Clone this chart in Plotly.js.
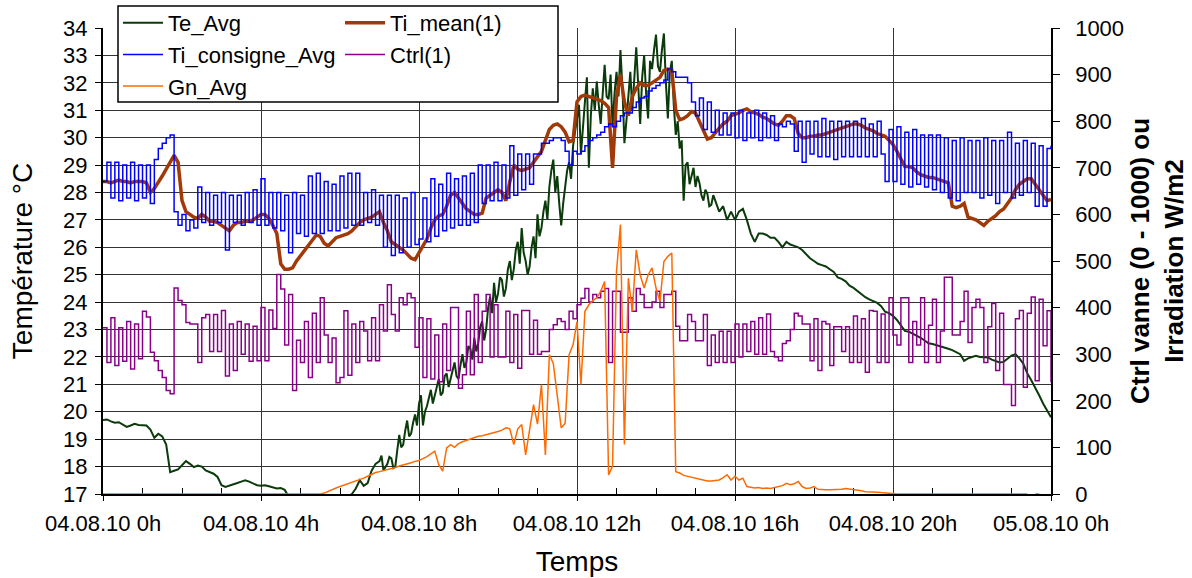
<!DOCTYPE html>
<html>
<head>
<meta charset="utf-8">
<script src="https://cdn.plot.ly/plotly-3.0.1.min.js"></script>
<style>
html,body{margin:0;padding:0;background:#fff;}
#chart{width:1192px;height:578px;}
</style>
</head>
<body>
<div id="chart"></div>
<script>
// Te_Avg: 6-minute samples 0h-7h, 3-minute samples 7h-15.5h (noisy part), 6-minute samples 15.5h-24h
const teAvg = [
  19.7, 19.72, 19.65, 19.6, 19.62, 19.55, 19.45, 19.5, 19.56, 19.52,
  19.5, 19.5, 19.35, 19.05, 19.2, 19.1, 18.8, 17.8, 17.85, 17.9,
  18.05, 18.2, 18.1, 17.98, 18.04, 18.0, 17.86, 17.8, 17.74, 17.62,
  17.32, 17.26, 17.3, 17.35, 17.4, 17.45, 17.5, 17.45, 17.38, 17.32,
  17.3, 17.32, 17.28, 17.25, 17.2, 17.22, 17.15, 16.9, 16.7, 16.6,
  16.6, 16.5, 16.5, 16.4, 16.4, 16.4, 16.5, 16.5, 16.6, 16.6,
  16.7, 16.8, 16.9, 17.0, 17.2, 17.5, 17.3, 17.4, 17.85, 18.1,
  // 7h - 15.45h (3 min)
  18.2, 18.4, 17.86, 18.0, 18.1, 18.35, 18.3, 17.95, 18.0, 18.6, 19.16, 18.7, 18.8, 19.3, 19.68, 19.1, 19.2, 19.6, 19.9, 19.5,
  20.3, 20.6, 19.5, 20.0, 20.2, 20.5, 20.8, 20.3, 20.6, 21.0, 21.2, 20.6, 20.7, 21.3, 21.4, 20.9, 21.2, 21.6, 21.8, 21.3,
  21.2, 21.7, 22.1, 21.6, 21.8, 22.4, 22.3, 21.9, 22.7, 22.2, 22.5, 23.1, 23.3, 22.6, 23.0, 23.8, 24.2, 23.6, 24.7, 24.0,
  24.3, 24.9, 24.8, 24.2, 24.5, 25.2, 25.5, 24.8, 25.2, 25.9, 26.2, 25.4, 26.7, 25.8, 25.5, 25.0, 25.3, 26.0, 26.4, 25.6,
  27.2, 26.4, 26.7, 27.3, 27.7, 27.0, 28.2, 28.8, 29.2, 28.0, 28.6, 27.6, 26.8, 27.6, 28.2, 28.8, 29.1, 28.5, 29.7, 30.2,
  30.6, 31.2, 29.4, 30.5, 31.3, 32.2, 28.9, 30.8, 31.8, 31.0, 32.05, 31.2, 30.5, 31.6, 32.66, 31.5, 31.4, 32.3, 30.4, 31.6,
  32.4, 31.5, 33.2, 31.8, 29.8, 30.6, 31.6, 32.4, 31.0, 32.0, 33.3, 31.9, 30.5, 32.2, 33.0, 31.6, 30.7, 32.8, 32.5, 33.2,
  33.76, 32.6, 32.4, 33.2, 33.8, 32.0, 30.7, 32.4, 32.8, 31.2, 30.1, 30.6, 29.6, 29.9, 27.7, 29.0, 29.1, 28.3, 28.65, 28.9,
  28.2, 28.6, 28.35, 27.9, 27.7, 28.1, 27.95, 27.5, 27.55, 27.9,
  // 15.5h - 24h (6 min)
  27.7, 27.3, 27.5, 27.0, 27.3,
  27.0, 27.3, 27.4, 27.0, 26.5, 26.2, 26.5, 26.5, 26.45, 26.35,
  26.35, 26.2, 26.0, 26.2, 26.1, 26.05, 26.0, 25.9, 25.75, 25.6,
  25.5, 25.4, 25.35, 25.3, 25.2, 25.1, 24.9, 24.85, 24.76, 24.6,
  24.52, 24.4, 24.3, 24.18, 24.1, 24.04, 23.97, 23.85, 23.65, 23.6,
  23.5, 23.35, 23.15, 22.95, 22.92, 22.85, 22.77, 22.7, 22.6, 22.5,
  22.47, 22.43, 22.4, 22.34, 22.3, 22.25, 22.18, 22.1, 21.86, 21.95,
  22.0, 22.04, 22.0, 21.98, 21.98, 21.9, 21.85, 21.8, 21.82, 21.95,
  22.05, 22.1, 21.95, 21.75, 21.4, 21.15, 20.9, 20.6, 20.3, 20.05,
  19.8
];
// Other series: 6-minute samples from 04.08.10 0h to 05.08.10 0h (one row per hour)
const tiMean = [
  28.4, 28.4, 28.35, 28.4, 28.45, 28.4, 28.4, 28.35, 28.4, 28.4,
  28.4, 28.35, 28.0, 28.15, 28.35, 28.6, 28.85, 29.1, 29.35, 29.1,
  27.7, 27.3, 27.2, 27.1, 27.05, 27.2, 27.1, 26.95, 26.95, 26.9,
  26.8, 26.7, 26.6, 26.8, 26.9, 26.9, 26.95, 26.95, 27.0, 27.1,
  27.2, 27.2, 27.05, 26.8, 26.5, 25.4, 25.2, 25.2, 25.25, 25.5,
  25.7, 25.9, 26.1, 26.3, 26.45, 26.4, 26.15, 26.05, 26.2, 26.35,
  26.4, 26.45, 26.5, 26.6, 26.75, 26.9, 27.0, 27.05, 27.1, 27.2,
  27.3, 26.9, 26.6, 26.2, 26.1, 26.0, 25.9, 25.75, 25.6, 25.55,
  25.8, 26.0, 26.3, 26.7, 27.0, 27.15, 27.2, 27.5, 27.9, 28.0,
  27.8, 27.6, 27.4, 27.3, 27.2, 27.2, 27.25, 27.8, 27.9, 28.0,
  28.1, 28.0, 27.7, 28.4, 29.0, 28.85, 28.8, 28.85, 28.9, 29.1,
  29.3, 29.5, 29.9, 30.3, 30.45, 30.5, 30.4, 30.2, 29.85, 29.9,
  31.3, 31.5, 31.55, 31.5, 31.45, 31.4, 31.35, 31.25, 31.1, 28.9,
  31.5, 32.3, 31.3, 30.8, 31.5, 31.8, 32.0, 31.9, 31.9, 32.0,
  32.1, 32.2, 32.45, 32.5, 32.45, 31.0, 30.65, 30.7, 30.8, 30.95,
  30.9, 30.6, 30.3, 29.95, 30.0, 30.2, 30.35, 30.5, 30.6, 30.8,
  30.85, 30.9, 31.0, 31.05, 30.95, 30.9, 30.85, 30.75, 30.7, 30.6,
  30.5, 30.45, 30.6, 30.8, 30.8, 30.7, 30.15, 30.0, 30.0, 30.05,
  30.05, 30.1, 30.1, 30.15, 30.2, 30.25, 30.3, 30.35, 30.4, 30.45,
  30.5, 30.5, 30.45, 30.35, 30.3, 30.25, 30.15, 30.1, 30.05, 29.9,
  29.75, 29.5, 29.2, 28.95, 28.95, 28.9, 28.75, 28.65, 28.6, 28.55,
  28.55, 28.5, 28.45, 28.4, 28.35, 27.5, 27.45, 27.5, 27.6, 27.1,
  27.05, 27.0, 26.9, 26.8, 26.95, 27.05, 27.15, 27.3, 27.4, 27.6,
  27.8, 28.1, 28.3, 28.4, 28.5, 28.5, 28.3, 28.1, 27.85, 27.7,
  27.75
];
const tiConsigne = [
  28.4, 29.1, 27.8, 29.1, 27.7, 29.0, 27.8, 29.1, 27.7, 29.0,
  27.8, 29.0, 27.6, 29.2, 29.6, 29.8, 30.0, 30.1, 27.3, 26.8,
  27.2, 26.6, 27.0, 26.7, 28.2, 26.9, 28.0, 26.8, 27.9, 26.9,
  28.0, 25.9, 27.9, 26.9, 27.9, 26.8, 28.0, 26.9, 28.1, 26.8,
  28.5, 26.8, 28.0, 26.7, 28.0, 26.6, 27.9, 25.8, 28.0, 26.5,
  27.9, 26.4, 28.6, 26.5, 28.7, 26.5, 28.4, 26.6, 28.3, 26.6,
  28.6, 26.7, 28.7, 26.8, 28.7, 26.8, 28.0, 26.9, 28.1, 26.8,
  27.9, 26.0, 27.9, 25.7, 27.9, 25.8, 27.8, 26.0, 28.0, 26.1,
  26.3, 27.8, 26.2, 28.5, 26.4, 28.3, 26.6, 28.7, 26.7, 28.5,
  26.8, 28.6, 26.8, 28.7, 26.9, 29.0, 27.6, 29.0, 27.7, 29.1,
  27.7, 29.0, 27.8, 29.7, 27.9, 29.4, 28.1, 29.4, 28.3, 29.4,
  29.4, 29.8, 29.8, 29.9, 30.0, 30.0, 29.9, 29.5, 29.0, 29.5,
  29.4, 29.5, 29.7, 29.9, 30.0, 30.1, 30.2, 30.4, 30.5, 30.4,
  30.6, 30.8, 30.9, 30.9, 31.1, 31.3, 31.45, 31.5, 31.7, 31.8,
  31.9, 32.0, 32.1, 32.5, 32.4, 32.2, 32.2, 32.2, 32.0, 31.3,
  30.8, 31.45, 30.3, 31.3, 30.2, 31.0, 30.1, 30.9, 30.1, 30.9,
  30.0, 31.0, 29.9, 30.9, 30.0, 31.0, 29.9, 30.9, 30.0, 30.8,
  29.9, 30.5, 30.4, 30.6, 30.5, 29.5, 30.6, 29.1, 30.6, 29.4,
  30.6, 29.3, 30.7, 29.3, 30.6, 29.2, 30.6, 29.3, 30.6, 29.3,
  30.6, 29.3, 30.7, 29.3, 30.5, 29.3, 30.6, 29.4, 28.4, 30.3,
  28.4, 30.4, 28.3, 30.2, 28.2, 30.3, 28.3, 30.1, 28.2, 30.1,
  28.1, 30.1, 28.0, 30.0, 27.8, 29.9, 27.7, 30.0, 28.0, 29.9,
  28.0, 29.9, 27.8, 30.0, 27.9, 29.9, 27.6, 29.9, 28.0, 30.2,
  27.8, 29.8, 27.9, 29.9, 28.0, 29.8, 27.5, 29.7, 27.5, 29.6,
  29.7
];
const ctrl = [
  357, 282, 378, 276, 357, 285, 370, 268, 365, 290,
  392, 380, 304, 286, 265, 250, 222, 215, 442, 415,
  406, 368, 365, 365, 282, 378, 385, 306, 385, 306,
  394, 253, 365, 265, 370, 300, 365, 285, 360, 286,
  400, 286, 395, 355, 471, 440, 320, 428, 222, 330,
  282, 370, 250, 388, 282, 421, 341, 282, 335, 239,
  250, 393, 255, 365, 282, 370, 350, 286, 378, 286,
  406, 350, 449, 385, 350, 421, 406, 430, 421, 315,
  378, 250, 376, 247, 341, 241, 365, 265, 400, 400,
  227, 256, 392, 256, 428, 282, 392, 428, 294, 406,
  294, 294, 392, 282, 385, 270, 394, 394, 300, 373,
  300, 306, 306, 353, 363, 376, 370, 353, 392, 376,
  406, 420, 441, 412, 428, 421, 435, 441, 282, 435,
  435, 347, 347, 421, 392, 441, 428, 400, 400, 412,
  435, 400, 428, 428, 435, 360, 329, 329, 385, 370,
  329, 329, 385, 276, 341, 282, 349, 282, 349, 282,
  365, 294, 365, 306, 370, 300, 378, 300, 386, 306,
  294, 286, 323, 329, 353, 388, 382, 365, 365, 286,
  376, 265, 370, 365, 276, 359, 359, 306, 359, 282,
  382, 282, 376, 261, 394, 392, 282, 386, 282, 421,
  341, 320, 421, 421, 282, 370, 320, 421, 282, 362,
  418, 282, 350, 465, 465, 341, 341, 370, 435, 325,
  400, 418, 400, 282, 359, 409, 265, 388, 235, 235,
  190, 376, 394, 229, 388, 423, 243, 418, 318, 393,
  240
];
const gnAvg = [
  0, 0, 0, 0, 0, 0, 0, 0, 0, 0,
  0, 0, 0, 0, 0, 0, 0, 0, 0, 0,
  0, 0, 0, 0, 0, 0, 0, 0, 0, 0,
  0, 0, 0, 0, 0, 0, 0, 0, 0, 0,
  0, 0, 0, 0, 0, 0, 0, 0, 0, 0,
  0, 0, 0, 0, 0, 0, 2, 6, 10, 13,
  16, 19, 22, 25, 28, 30, 34, 38, 42, 46,
  48, 50, 52, 55, 57, 60, 62, 65, 67, 70,
  72, 76, 80, 86, 92, 63, 49, 99, 106, 100,
  108, 112, 115, 118, 121, 124, 125, 127, 129, 132,
  134, 137, 142, 140, 106, 140, 149, 84, 140, 192,
  150, 235, 84, 299, 280, 213, 142, 152, 299, 320,
  370, 235, 392, 406, 415, 421, 435, 456, 41, 60,
  478, 578, 106, 463, 392, 524, 470, 442, 470, 485,
  442, 413, 499, 510, 517, 48, 45, 40, 38, 36,
  35, 33, 30, 28, 28, 29, 30, 35, 41, 30,
  38, 30, 34, 16, 14, 13, 14, 12, 13, 12,
  14, 16, 18, 23, 20, 22, 27, 16, 12, 13,
  16, 10, 9, 9, 9, 9, 9, 10, 12, 11,
  9, 9, 7, 5, 5, 4, 4, 3, 2, 1,
  0, 0, 0, 0, 0, 0, 0, 0, 0, 0,
  0, 0, 0, 0, 0, 0, 0, 0, 0, 0,
  0, 0, 0, 0, 0, 0, 0, 0, 0, 0,
  0, 0, 0, 0, 0, null, 0, 0, null, null,
  null
];
const seriesNames = ['Te_Avg', 'Ti_mean(1)', 'Ti_consigne_Avg', 'Ctrl(1)', 'Gn_Avg'];
const tickHours = [0, 4, 8, 12, 16, 20, 24];
const tickLabels = ['04.08.10 0h', '04.08.10 4h', '04.08.10 8h', '04.08.10 12h', '04.08.10 16h', '04.08.10 20h', '05.08.10 0h'];
const minorTickHours = [1, 2, 3, 5, 6, 7, 9, 10, 11, 13, 14, 15, 17, 18, 19, 21, 22, 23];

// sampling grids (hours)
const hours = tiMean.map((_, i) => i / 10);
const teHours = [];
for (let i = 0; i < 70; i++) teHours.push(i / 10);
for (let i = 0; i < 170; i++) teHours.push(7 + i / 20);
for (let i = 0; i <= 85; i++) teHours.push(15.5 + i / 10);

const FONT = 'Liberation Sans, Arial, sans-serif';
const W = 1192, H = 578;
const M = {l: 103, r: 141, t: 28, b: 84, autoexpand: false};
const PW = W - M.l - M.r, PH = H - M.t - M.b;
const px = x => (x - M.l) / PW;
const py = y => (H - M.b - y) / PH;

const traces = [
  {x: teHours, y: teAvg, name: seriesNames[0], type: 'scatter', mode: 'lines',
   line: {color: '#0b3a0b', width: 2}, legend: 'legend'},
  {x: hours, y: tiMean, name: seriesNames[1], type: 'scatter', mode: 'lines',
   line: {color: '#a13a08', width: 3.5}, legend: 'legend2'},
  {x: hours, y: tiConsigne, name: seriesNames[2], type: 'scatter', mode: 'lines',
   line: {color: '#0000ff', width: 1.5, shape: 'hv'}, legend: 'legend'},
  {x: hours, y: ctrl, name: seriesNames[3], type: 'scatter', mode: 'lines', yaxis: 'y2',
   line: {color: '#8b008b', width: 1.5, shape: 'hv'}, legend: 'legend2'},
  {x: hours, y: gnAvg, name: seriesNames[4], type: 'scatter', mode: 'lines', yaxis: 'y2',
   line: {color: '#ff6a00', width: 1.5}, legend: 'legend', connectgaps: false}
];

const legendCommon = {
  xanchor: 'left', yanchor: 'top', bgcolor: 'rgba(0,0,0,0)', borderwidth: 0,
  font: {family: FONT, size: 22, color: '#000'}, itemwidth: 40, tracegroupgap: 0,
  orientation: 'v'
};

const layout = {
  width: W, height: H,
  margin: M,
  paper_bgcolor: '#ffffff', plot_bgcolor: '#ffffff',
  font: {family: FONT, size: 22, color: '#000'},
  showlegend: true,
  xaxis: {
    range: [0, 24], tickmode: 'array', tickvals: tickHours, ticktext: tickLabels,
    ticks: 'outside', ticklen: 5, tickcolor: '#000', tickwidth: 1,
    tickfont: {family: FONT, size: 22, color: '#000'}, ticklabelstandoff: 4,
    showgrid: true, gridcolor: '#333333', gridwidth: 1,
    showline: true, linecolor: '#000', linewidth: 2, layer: 'below traces',
    zeroline: false, fixedrange: true,
    minor: {tickmode: 'array', tickvals: minorTickHours, ticks: 'inside', ticklen: 6, tickcolor: '#000', tickwidth: 1, showgrid: false},
    title: {text: 'Temps', font: {family: FONT, size: 28, color: '#000'}, standoff: 16}
  },
  yaxis: {
    range: [17, 34], tickmode: 'linear', tick0: 17, dtick: 1,
    ticks: 'outside', ticklen: 6, tickcolor: '#000', tickwidth: 1,
    tickfont: {family: FONT, size: 22, color: '#000'}, ticklabelstandoff: 3,
    showgrid: true, gridcolor: '#333333', gridwidth: 1,
    showline: true, linecolor: '#000', linewidth: 2,
    zeroline: false, fixedrange: true,
    title: {text: 'Température °C', font: {family: FONT, size: 28, color: '#000'}, standoff: 22}
  },
  yaxis2: {
    overlaying: 'y', side: 'right', range: [0, 1000], tickmode: 'linear', tick0: 0, dtick: 100,
    ticks: 'outside', ticklen: 7, tickcolor: '#000', tickwidth: 1,
    tickfont: {family: FONT, size: 22, color: '#000'}, ticklabelstandoff: 11,
    showgrid: false, showline: true, linecolor: '#000', linewidth: 1.5,
    zeroline: false, fixedrange: true,
    title: {text: '<b>Ctrl vanne (0 - 1000) ou<br>Irradiation W/m2</b>', font: {family: FONT, size: 26, color: '#000'}, standoff: 8}
  },
  legend: Object.assign({x: px(118), y: py(2)}, legendCommon),
  legend2: Object.assign({x: px(340), y: py(2)}, legendCommon),
  shapes: [
    {type: 'rect', xref: 'paper', yref: 'paper', x0: px(118), x1: px(558), y0: py(102), y1: py(6),
     fillcolor: '#ffffff', line: {color: '#000', width: 1.5}, layer: 'above'}
  ]
};

Plotly.newPlot('chart', traces, layout, {displayModeBar: false, responsive: false});
</script>
</body>
</html>
